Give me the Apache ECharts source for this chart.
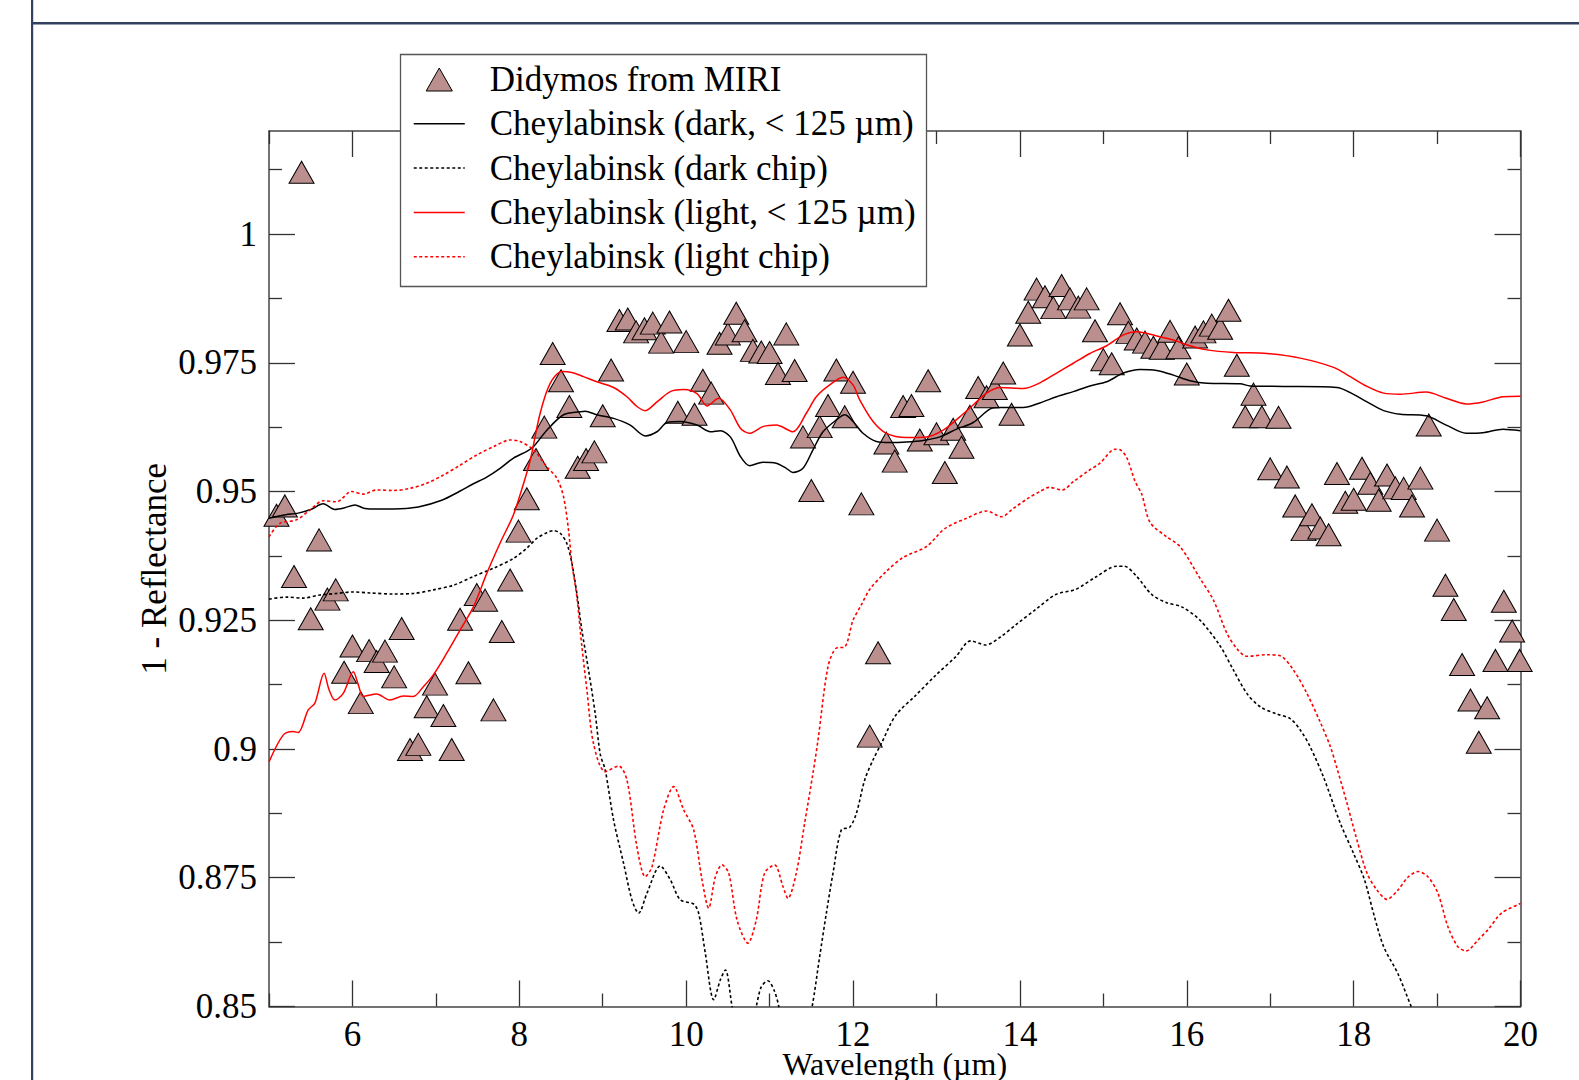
<!DOCTYPE html>
<html><head><meta charset="utf-8">
<script src="https://cdn.jsdelivr.net/npm/echarts@6/dist/echarts.min.js"></script>
<style>html,body{margin:0;padding:0;background:#fff}#c{width:1579px;height:1080px}</style>
</head><body><div id="c"></div>
<script>
// ---- Tick labels ----
const xMajorTicks = [6, 8, 10, 12, 14, 16, 18, 20];
const xMinorTicks = [5, 7, 9, 11, 13, 15, 17, 19];
const yMajorTicks = [0.85, 0.875, 0.9, 0.925, 0.95, 0.975, 1];
const yMinorTicks = [0.8625, 0.8875, 0.9125, 0.9375, 0.9625, 0.9875, 1.0125];

// ---- Didymos from MIRI ----
const didymosWl = [5.09,5.19,5.30,5.39,5.50,5.60,5.70,5.80,5.90,6.00,6.10,6.20,6.29,6.39,6.50,6.59,6.69,6.79,6.89,6.99,
7.09,7.19,7.29,7.39,7.49,7.59,7.69,7.79,7.89,7.99,8.09,8.20,8.30,8.40,8.50,8.60,8.70,8.80,8.90,9.00,
9.10,9.20,9.30,9.40,9.50,9.60,9.70,9.80,9.90,10.00,10.10,10.20,10.30,10.40,10.50,10.60,10.70,10.80,10.90,11.00,
11.10,11.20,11.30,11.40,11.50,11.60,11.70,11.80,11.90,12.00,12.10,12.20,12.30,12.40,12.50,12.60,12.70,12.80,12.90,13.00,
13.10,13.20,13.30,13.40,13.50,13.60,13.70,13.80,13.90,14.00,14.10,14.20,14.30,14.40,14.50,14.60,14.70,14.80,14.90,15.00,
15.10,15.20,15.30,15.40,15.50,15.60,15.70,15.80,15.90,16.00,16.10,16.20,16.30,16.40,16.50,16.60,16.70,16.80,16.90,17.00,
17.10,17.20,17.30,17.40,17.50,17.60,17.70,17.80,17.90,18.00,18.10,18.20,18.30,18.40,18.50,18.60,18.70,18.80,18.90,19.00,
19.10,19.20,19.30,19.40,19.50,19.60,19.70,19.80,19.90,19.99];
const didymosVal = [0.9454,0.9472,0.9335,1.0120,0.9253,0.9406,0.9291,0.9309,0.9149,0.9200,0.9090,0.9191,0.9170,0.9190,0.9140,0.9234,0.8999,0.9009,0.9082,0.9126,
0.9065,0.8999,0.9252,0.9148,0.9300,0.9289,0.9076,0.9228,0.9328,0.9423,0.9486,0.9562,0.9625,0.9768,0.9715,0.9665,0.9547,0.9562,0.9577,0.9647,
0.9736,0.9832,0.9835,0.9810,0.9816,0.9827,0.9790,0.9829,0.9654,0.9791,0.9650,0.9716,0.9691,0.9788,0.9806,0.9846,0.9812,0.9774,0.9771,0.9770,
0.9729,0.9806,0.9735,0.9606,0.9502,0.9626,0.9667,0.9736,0.9645,0.9712,0.9476,0.9025,0.9187,0.9594,0.9559,0.9665,0.9667,0.9600,0.9715,0.9612,
0.9537,0.9621,0.9586,0.9646,0.9702,0.9684,0.9700,0.9730,0.9650,0.9804,0.9848,0.9893,0.9878,0.9857,0.9900,0.9874,0.9858,0.9874,0.9812,0.9756,
0.9748,0.9845,0.9809,0.9796,0.9790,0.9780,0.9778,0.9811,0.9779,0.9728,0.9800,0.9810,0.9823,0.9817,0.9852,0.9745,0.9645,0.9689,0.9645,0.9544,
0.9644,0.9528,0.9472,0.9426,0.9455,0.9429,0.9416,0.9535,0.9479,0.9485,0.9545,0.9516,0.9483,0.9532,0.9507,0.9506,0.9472,0.9526,0.9629,0.9425,
0.9318,0.9271,0.9164,0.9095,0.9013,0.9080,0.9172,0.9287,0.9229,0.9172];

// ---- Cheylabinsk (dark, < 125 um) ----
const darkFineWl = [5.00,5.20,5.35,5.50,5.65,5.79,5.90,6.03,6.15,6.30,6.50,6.79,7.07,7.28,7.45,7.60,7.77,7.93,8.09,8.17,
8.33,8.53,8.73,8.79,8.93,9.13,9.33,9.51,9.65,9.77,9.93,10.13,10.29,10.41,10.53,10.65,10.76,10.92,11.08,11.20,
11.28,11.40,11.52,11.64,11.80,11.90,12.00,12.12,12.28,12.44,12.64,12.84,13.04,13.24,13.44,13.64,13.76,14.04,14.24,14.44,
14.64,14.84,15.04,15.24,15.44,15.64,15.84,16.04,16.24,16.64,16.76,17.16,17.80,17.96,18.16,18.36,18.56,18.87,19.11,19.35,
19.55,19.79,20.00];
const darkFineVal = [0.9448,0.9455,0.9458,0.9465,0.9476,0.9465,0.9468,0.9474,0.9467,0.9466,0.9466,0.9470,0.9483,0.9500,0.9515,0.9527,0.9545,0.9565,0.9578,0.9587,
0.9619,0.9649,0.9655,0.9656,0.9649,0.9642,0.9629,0.9608,0.9616,0.9634,0.9636,0.9629,0.9616,0.9618,0.9606,0.9568,0.9550,0.9557,0.9555,0.9545,
0.9537,0.9545,0.9581,0.9616,0.9639,0.9649,0.9636,0.9613,0.9597,0.9595,0.9596,0.9599,0.9606,0.9621,0.9634,0.9660,0.9663,0.9663,0.9672,0.9684,
0.9694,0.9705,0.9713,0.9730,0.9737,0.9735,0.9726,0.9715,0.9710,0.9709,0.9705,0.9704,0.9702,0.9692,0.9674,0.9657,0.9650,0.9647,0.9629,0.9613,
0.9614,0.9621,0.9618];

// ---- Cheylabinsk (dark chip) ----
const darkChipWl = [5.00,5.21,5.41,5.61,5.81,6.01,6.21,6.49,6.73,6.97,7.21,7.45,7.69,7.93,8.09,8.21,8.33,8.41,8.49,8.57,
8.63,8.69,8.75,8.83,8.91,8.97,9.03,9.13,9.25,9.35,9.43,9.53,9.69,9.81,9.93,10.09,10.15,10.23,10.33,10.41,
10.47,10.55,10.62,10.75,10.84,10.90,10.98,11.06,11.11,11.20,11.40,11.51,11.60,11.68,11.76,11.86,11.96,12.04,12.14,12.24,
12.34,12.51,12.75,12.99,13.23,13.41,13.59,13.77,13.95,14.19,14.43,14.67,14.92,15.16,15.25,15.40,15.58,15.76,15.94,16.16,
16.40,16.56,16.72,16.88,17.08,17.24,17.36,17.48,17.64,17.84,18.00,18.13,18.25,18.36,18.53,18.69,18.85];
const darkChipVal = [0.9291,0.9295,0.9293,0.9299,0.9302,0.9305,0.9303,0.9301,0.9302,0.9309,0.9318,0.9335,0.9351,0.9370,0.9390,0.9409,0.9420,0.9424,0.9419,0.9399,
0.9361,0.9302,0.9231,0.9153,0.9069,0.8990,0.8959,0.8862,0.8778,0.8707,0.8681,0.8720,0.8773,0.8746,0.8707,0.8699,0.8681,0.8603,0.8513,0.8552,
0.8571,0.8500,0.8440,0.8440,0.8500,0.8538,0.8550,0.8529,0.8500,0.8420,0.8420,0.8500,0.8597,0.8681,0.8759,0.8843,0.8848,0.8875,0.8940,0.8979,
0.9011,0.9065,0.9104,0.9143,0.9179,0.9210,0.9202,0.9218,0.9241,0.9271,0.9300,0.9310,0.9335,0.9355,0.9355,0.9335,0.9300,0.9284,0.9276,0.9250,
0.9200,0.9153,0.9108,0.9082,0.9068,0.9059,0.9037,0.9004,0.8945,0.8856,0.8797,0.8746,0.8674,0.8616,0.8564,0.8500,0.8440];

// ---- Cheylabinsk (light, < 125 um) ----
const lightFineWl = [5.00,5.17,5.29,5.35,5.47,5.55,5.66,5.72,5.79,5.89,6.01,6.07,6.13,6.29,6.45,6.61,6.73,6.85,6.97,7.13,
7.29,7.45,7.61,7.77,7.93,8.05,8.13,8.25,8.37,8.51,8.63,8.77,8.93,9.13,9.29,9.41,9.51,9.65,9.81,9.97,
10.13,10.25,10.39,10.53,10.65,10.76,10.92,11.08,11.28,11.44,11.56,11.72,11.88,12.00,12.08,12.24,12.40,12.64,12.88,13.08,
13.28,13.44,13.60,13.76,14.04,14.24,14.44,14.64,14.84,15.04,15.24,15.40,15.64,15.84,16.04,16.24,16.56,16.96,17.36,17.76,
17.96,18.16,18.36,18.56,18.87,19.11,19.35,19.55,19.79,20.00];
const lightFineVal = [0.8975,0.9027,0.9034,0.9032,0.9076,0.9089,0.9147,0.9115,0.9095,0.9108,0.9150,0.9125,0.9102,0.9107,0.9095,0.9103,0.9102,0.9121,0.9144,0.9186,
0.9231,0.9276,0.9341,0.9400,0.9455,0.9515,0.9560,0.9652,0.9710,0.9733,0.9731,0.9723,0.9713,0.9702,0.9684,0.9665,0.9657,0.9674,0.9694,0.9698,
0.9690,0.9666,0.9681,0.9658,0.9623,0.9613,0.9626,0.9629,0.9616,0.9652,0.9684,0.9707,0.9722,0.9707,0.9678,0.9636,0.9613,0.9605,0.9606,0.9619,
0.9645,0.9668,0.9691,0.9702,0.9700,0.9711,0.9730,0.9749,0.9768,0.9783,0.9804,0.9810,0.9802,0.9794,0.9783,0.9775,0.9770,0.9768,0.9759,0.9741,
0.9723,0.9704,0.9691,0.9689,0.9693,0.9681,0.9670,0.9674,0.9684,0.9685];

// ---- Cheylabinsk (light chip) ----
const lightChipWl = [5.00,5.13,5.33,5.49,5.65,5.81,5.99,6.13,6.29,6.49,6.69,6.89,7.09,7.29,7.49,7.69,7.89,8.01,8.17,8.33,
8.45,8.53,8.59,8.63,8.69,8.75,8.81,8.89,9.03,9.19,9.29,9.41,9.51,9.59,9.73,9.85,9.97,10.09,10.19,10.27,
10.35,10.43,10.51,10.61,10.74,10.84,10.94,11.06,11.16,11.22,11.32,11.42,11.52,11.58,11.70,11.80,11.90,12.00,12.10,12.20,
12.40,12.60,12.88,13.10,13.36,13.60,13.78,13.92,14.10,14.24,14.35,14.51,14.64,14.82,14.96,15.14,15.20,15.28,15.38,15.46,
15.56,15.76,15.92,16.16,16.32,16.48,16.60,16.72,16.96,17.12,17.28,17.44,17.60,17.72,17.80,17.92,18.04,18.16,18.28,18.40,
18.53,18.65,18.77,18.89,19.01,19.13,19.25,19.35,19.49,19.61,19.77,20.00];
const lightChipVal = [0.9412,0.9438,0.9445,0.9464,0.9482,0.9480,0.9500,0.9495,0.9503,0.9502,0.9506,0.9516,0.9532,0.9551,0.9571,0.9587,0.9600,0.9597,0.9581,0.9548,
0.9526,0.9490,0.9425,0.9361,0.9296,0.9199,0.9115,0.9010,0.8956,0.8967,0.8940,0.8810,0.8752,0.8771,0.8882,0.8927,0.8882,0.8843,0.8746,0.8691,
0.8752,0.8775,0.8759,0.8668,0.8623,0.8668,0.8759,0.8775,0.8733,0.8710,0.8759,0.8856,0.8953,0.9017,0.9160,0.9196,0.9198,0.9250,0.9280,0.9310,
0.9345,0.9372,0.9393,0.9428,0.9448,0.9462,0.9451,0.9467,0.9487,0.9500,0.9508,0.9503,0.9519,0.9540,0.9555,0.9582,0.9581,0.9566,0.9520,0.9495,
0.9440,0.9412,0.9393,0.9331,0.9289,0.9225,0.9195,0.9180,0.9183,0.9181,0.9153,0.9108,0.9052,0.9005,0.8963,0.8895,0.8823,0.8759,0.8726,0.8708,
0.8726,0.8751,0.8762,0.8752,0.8720,0.8655,0.8616,0.8608,0.8629,0.8649,0.8681,0.8700];

const names = ['Didymos from MIRI', 'Cheylabinsk (dark, < 125 µm)', 'Cheylabinsk (dark chip)',
               'Cheylabinsk (light, < 125 µm)', 'Cheylabinsk (light chip)'];

const pairs = (xs, ys) => xs.map((x, i) => [x, ys[i]]);
const FONT = 'Liberation Serif';
const DOT = [3, 2.5];

function xAx(pos, major) {
  return {
    type: 'value', min: 5, max: 20, position: pos,
    axisLine: { show: major, onZero: false, lineStyle: { color: '#444', width: 1.5 } },
    axisTick: { show: true, inside: true, length: major ? 26 : 13,
      customValues: major ? xMajorTicks : xMinorTicks, lineStyle: { color: '#333', width: 1.3 } },
    axisLabel: { show: major && pos === 'bottom', customValues: xMajorTicks, margin: 15.5, lineHeight: 24,
      color: '#000', fontFamily: FONT, fontSize: 35 },
    splitLine: { show: false },
    name: (major && pos === 'bottom') ? 'Wavelength (µm)' : '',
    nameLocation: 'middle', nameGap: 41, nameMoveOverlap: false,
    nameTextStyle: { color: '#000', fontFamily: FONT, fontSize: 32, lineHeight: 32 }
  };
}
function yAx(pos, major) {
  return {
    type: 'value', min: 0.85, max: 1.02, position: pos,
    axisLine: { show: major, onZero: false, lineStyle: { color: '#444', width: 1.5 } },
    axisTick: { show: true, inside: true, length: major ? 26 : 13,
      customValues: major ? yMajorTicks : yMinorTicks, lineStyle: { color: '#333', width: 1.3 } },
    axisLabel: { show: major && pos === 'left', customValues: yMajorTicks, margin: 12,
      color: '#000', fontFamily: FONT, fontSize: 35 },
    splitLine: { show: false },
    name: (major && pos === 'left') ? '1 - Reflectance' : '',
    nameLocation: 'middle', nameGap: 97, nameMoveOverlap: false,
    nameTextStyle: { color: '#000', fontFamily: FONT, fontSize: 35 }
  };
}

const chart = echarts.init(document.getElementById('c'), null, { renderer: 'svg' });
chart.setOption({
  animation: false,
  backgroundColor: '#fff',
  grid: { left: 269, top: 131, width: 1251.5, height: 875.5, containLabel: false, outerBoundsMode: 'none' },
  xAxis: [xAx('bottom', true), xAx('bottom', false), xAx('top', true), xAx('top', false)],
  yAxis: [yAx('left', true), yAx('left', false), yAx('right', true), yAx('right', false)],
  graphic: [
    { type: 'rect', silent: true, z: 100, shape: { x: 31, y: 0, width: 2.2, height: 1080 }, style: { fill: '#33415f' } },
    { type: 'rect', silent: true, z: 100, shape: { x: 31, y: 22, width: 1548, height: 2.6 }, style: { fill: '#33415f' } },
    { type: 'rect', silent: true, z: 50, shape: { x: 400.5, y: 54.5, width: 526, height: 232 },
      style: { fill: '#fff', stroke: '#555', lineWidth: 1.3 } }
  ],
  legend: {
    orient: 'vertical', left: 413, top: 62, itemWidth: 51, itemHeight: 23, itemGap: 9.3,
    padding: 0, z: 60, selectedMode: false, symbolKeepAspect: true,
    textStyle: { fontFamily: FONT, fontSize: 35, color: '#000', padding: [0, 0, 0, 20] },
    data: [
      { name: names[0], icon: 'path://M0,22L12.5,0L25,22Z', itemStyle: { borderWidth: 1, borderColor: '#000', color: '#bc8f8f' } },
      { name: names[1], itemStyle: { opacity: 0 }, lineStyle: { width: 1.5, type: 'solid', color: '#000' } },
      { name: names[2], itemStyle: { opacity: 0 }, lineStyle: { width: 1.5, type: DOT, color: '#000' } },
      { name: names[3], itemStyle: { opacity: 0 }, lineStyle: { width: 1.5, type: 'solid', color: '#ff0000' } },
      { name: names[4], itemStyle: { opacity: 0 }, lineStyle: { width: 1.5, type: DOT, color: '#ff0000' } }
    ]
  },
  series: [
    { name: names[0], type: 'scatter', z: 2, symbol: 'triangle', symbolSize: [25, 22],
      itemStyle: { color: '#bc8f8f', borderColor: '#000', borderWidth: 1, opacity: 1 },
      data: pairs(didymosWl, didymosVal) },
    { name: names[1], type: 'line', z: 3, symbol: 'none', smooth: 0.3,
      lineStyle: { color: '#000', width: 1.5 }, itemStyle: { color: '#000' },
      data: pairs(darkFineWl, darkFineVal) },
    { name: names[2], type: 'line', z: 3, symbol: 'none', smooth: 0.3,
      lineStyle: { color: '#000', width: 1.6, type: DOT }, itemStyle: { color: '#000' },
      data: pairs(darkChipWl, darkChipVal) },
    { name: names[3], type: 'line', z: 3, symbol: 'none', smooth: 0.3,
      lineStyle: { color: '#ff0000', width: 1.5 }, itemStyle: { color: '#ff0000' },
      data: pairs(lightFineWl, lightFineVal) },
    { name: names[4], type: 'line', z: 3, symbol: 'none', smooth: 0.3,
      lineStyle: { color: '#ff0000', width: 1.6, type: DOT }, itemStyle: { color: '#ff0000' },
      data: pairs(lightChipWl, lightChipVal) }
  ]
});
</script></body></html>
